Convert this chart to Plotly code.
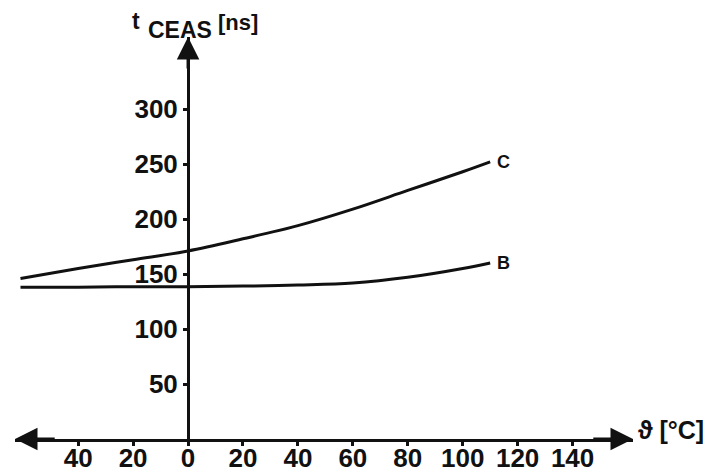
import plotly.graph_objects as go

# Temperature (°C) and switching time t_CEAS (ns) for two device grades
temps = [-61, -40, -20, 0, 20, 40, 60, 80, 100, 110]
curve_c = [146, 155, 163, 171, 182, 194, 209, 226, 243, 252]
curve_b = [138, 138, 138.5, 138.5, 139, 140, 141.8, 147, 155, 160]

x_ticks = [-40, -20, 0, 20, 40, 60, 80, 100, 120, 140]
x_tick_text = ["40", "20", "0", "20", "40", "60", "80", "100", "120", "140"]
y_ticks = [50, 100, 150, 200, 250, 300]
y_tick_text = ["50", "100", "150", "200", "250", "300"]

X_MIN, X_MAX = -63, 162
Y_MAX = 365.5

W, H = 726, 473
M_L, M_R, M_T, M_B = 15, 93, 37, 34
PLOT_W = W - M_L - M_R
PLOT_H = H - M_T - M_B

FONT = "Liberation Sans, Arial, sans-serif"
INK = "#111111"


def paper_x(px):
    return (px - M_L) / PLOT_W


def paper_y(py):
    return (H - M_B - py) / PLOT_H


fig = go.Figure()

for name, vals in (("C", curve_c), ("B", curve_b)):
    fig.add_trace(go.Scatter(
        x=temps, y=vals, mode="lines", name=name,
        line=dict(color=INK, width=3, shape="spline", smoothing=1.0),
        showlegend=False, hoverinfo="skip",
    ))
    fig.add_annotation(
        x=temps[-1], y=vals[-1], text=name, showarrow=False,
        xanchor="left", yanchor="middle", xshift=5,
        font=dict(family=FONT, size=18, color=INK, weight="bold"),
    )

# Arrowheads on both ends of the temperature axis and on top of the time axis
arrow = dict(showarrow=True, arrowhead=2, arrowsize=1.5, arrowwidth=3,
             arrowcolor=INK, axref="x", ayref="y", text="", standoff=0)
fig.add_annotation(x=X_MIN, y=0, ax=X_MIN + 15, ay=0, **arrow)
fig.add_annotation(x=X_MAX, y=0, ax=X_MAX - 15, ay=0, **arrow)
fig.add_annotation(x=0, y=Y_MAX, ax=0, ay=Y_MAX - 30, **arrow)

# Axis titles
title_bits = [
    ("ϑ [°C]", 636, 430, 25),
    ("t", 130, 21, 23),
    ("CEAS", 146, 30, 23),
    ("[ns]", 216, 22, 22),
]
for txt, px, py, size in title_bits:
    fig.add_annotation(
        xref="paper", yref="paper", x=paper_x(px), y=paper_y(py),
        text=txt, showarrow=False, xanchor="left", yanchor="middle",
        font=dict(family=FONT, size=size, color=INK, weight="bold"),
    )

tick_font = dict(family=FONT, size=26, color=INK, weight="bold")

fig.update_layout(
    width=W, height=H,
    margin=dict(l=M_L, r=M_R, t=M_T, b=M_B, autoexpand=False),
    paper_bgcolor="white", plot_bgcolor="white",
    xaxis=dict(
        range=[X_MIN, X_MAX], showgrid=False, zeroline=False, automargin=False,
        showline=True, linecolor=INK, linewidth=3,
        tickvals=x_ticks, ticktext=x_tick_text,
        ticks="outside", ticklen=4, tickwidth=2.5, tickcolor=INK,
        tickfont=tick_font, ticklabelstandoff=-10,
    ),
    yaxis=dict(
        range=[0, Y_MAX], showgrid=False, zeroline=False, automargin=False,
        anchor="free", position=(0 - X_MIN) / (X_MAX - X_MIN),
        showline=True, linecolor=INK, linewidth=3,
        tickvals=y_ticks, ticktext=y_tick_text,
        ticks="outside", ticklen=4, tickwidth=2.5, tickcolor=INK,
        tickfont=tick_font, ticklabelstandoff=0,
    ),
)

fig.write_html("out.html")
